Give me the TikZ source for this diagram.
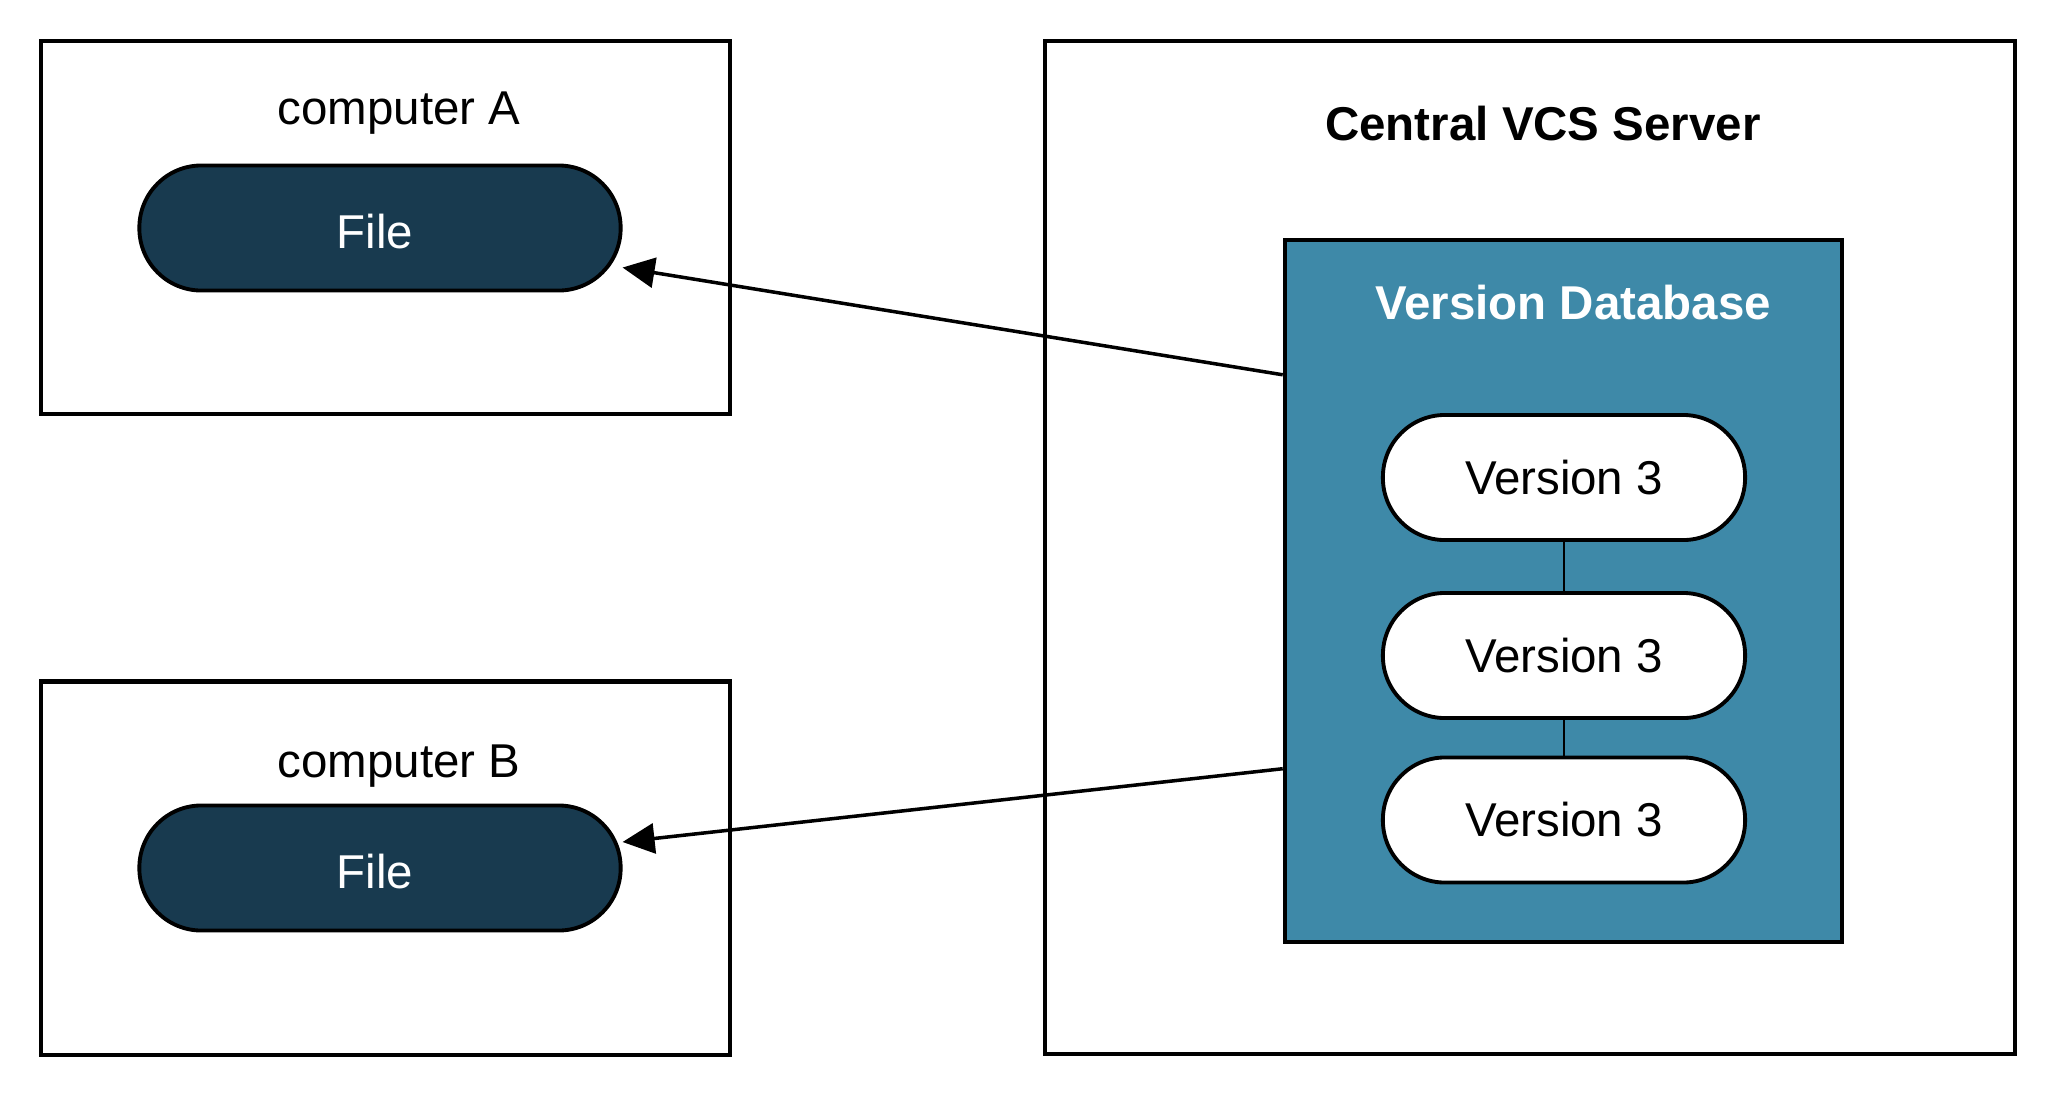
\documentclass[tikz,border=0pt]{standalone}
\usepackage{fontspec}
\setmainfont{Liberation Sans}
\usetikzlibrary{arrows.meta, positioning}
\definecolor{filefill}{HTML}{183A4F}
\definecolor{dbfill}{HTML}{3E89A8}
\tikzstyle{machine} = [rectangle, minimum width=6.89cm, minimum height=3.73cm, draw=black, line width=1.2pt]
\tikzstyle{server} = [rectangle, minimum width=9.7cm, minimum height=10.13cm, draw=black, line width=1.2pt]
\tikzstyle{database} = [rectangle, minimum width=5.57cm, minimum height=7.02cm, fill=dbfill, draw=black, line width=1.2pt]
\tikzstyle{filepill} = [rectangle, rounded corners=0.62cm, minimum width=4.81cm, minimum height=1.25cm, text centered, fill=filefill, text=white, draw=black, line width=1.1pt]
\tikzstyle{versionpill} = [rectangle, rounded corners=0.62cm, minimum width=3.62cm, minimum height=1.25cm, text centered, fill=white, draw=black, line width=1.1pt]
\tikzstyle{title} = [anchor=base, inner sep=0pt]
\tikzstyle{arrow} = [line width=1pt, -{Triangle[length=0.32cm, width=0.3cm]}]
\tikzstyle{link} = [line width=0.8pt]

\begin{document}
\begin{tikzpicture}[x=0.01cm, y=-0.01cm, font=\fontsize{13.5pt}{16pt}\selectfont]
\useasboundingbox (0,0) rectangle (2056,1096);

\node (compA) [machine] at (385.5,227.5) {};
\node (compB) [machine] at (385.5,868) {};
\node (vcs) [server] at (1530,547.5) {};
\node (db) [database] at (1563.5,591) {};

\node (compAlabel) [title] at (399,124) {computer A};
\node (compBlabel) [title] at (399,777) {computer B};
\node (vcslabel) [title] at (1543,140) {\bfseries Central VCS Server};
\node (dblabel) [title, text=white] at (1573,319) {\bfseries Version Database};

% pills of the two computers
\node (fileA) [filepill] at (380,228) {};
\node (fileB) [filepill] at (380,868) {};
\node (fileAlabel) [title, text=white] at (375,248) {File};
\node (fileBlabel) [title, text=white] at (375,888) {File};

\node (ver1) [versionpill] at (1564,477.5) {Version 3};
\node (ver2) [versionpill] at (1564,655.5) {Version 3};
\node (ver3) [versionpill] at (1564,820) {Version 3};

\draw [link] (ver1) -- (ver2);
\draw [link] (ver2) -- (ver3);

\draw [arrow] ([yshift=-1.37cm]db.north west) -- ([yshift=-0.395cm]fileA.east);
\draw [arrow] ([yshift=1.755cm]db.south west) -- ([yshift=0.26cm]fileB.east);
\end{tikzpicture}
\end{document}
